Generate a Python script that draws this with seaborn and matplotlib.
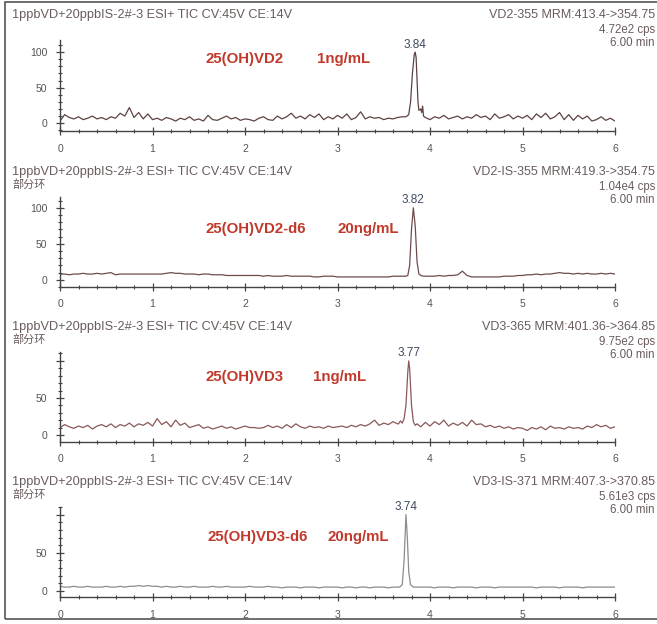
import numpy as np
import pandas as pd
import matplotlib.pyplot as plt
import seaborn as sns
from matplotlib.ticker import MultipleLocator
from matplotlib.patches import Rectangle

# baseline readings every 0.05 min, one row per minute (+ the 6.00 point)
time_grid = np.round(np.arange(0, 6.001, 0.05), 2)

vd2_base = [3, 12, 8, 6, 9, 5, 7, 10, 6, 8, 5, 9, 7, 14, 10, 22, 8, 15, 6, 13,
            5, 7, 4, 8, 6, 3, 7, 5, 9, 4, 6, 3, 11, 5, 4, 7, 10, 6, 8, 4,
            6, 5, 3, 7, 9, 5, 4, 10, 6, 9, 14, 7, 10, 6, 12, 8, 13, 5, 9, 6,
            11, 7, 13, 5, 8, 16, 6, 9, 7, 8, 5, 7, 6, 8, 9, 9, 9, 9, 9, 8,
            5, 9, 7, 11, 6, 8, 10, 6, 9, 7, 12, 8, 10, 5, 13, 7, 9, 12, 6, 10,
            7, 11, 5, 13, 8, 14, 6, 9, 15, 5, 12, 4, 11, 6, 10, 3, 5, 9, 4, 7,
            3]
vd2_peak_t = [3.74, 3.77, 3.79, 3.81, 3.83, 3.84, 3.85, 3.86, 3.87, 3.88, 3.90, 3.91, 3.92, 3.93, 3.95]
vd2_peak_y = [9, 12, 30, 70, 97, 100, 92, 60, 30, 18, 20, 15, 24, 10, 8]

vd2is_base = [8, 8, 7, 8, 8, 9, 8, 8, 9, 8, 9, 10, 7, 8, 8, 8, 8, 8, 8, 8,
              8, 8, 8, 9, 10, 9, 9, 8, 8, 8, 7, 8, 8, 7, 7, 7, 6, 6, 6, 6,
              6, 6, 6, 6, 5, 6, 5, 5, 5, 6, 5, 5, 5, 5, 5, 4, 4, 5, 5, 5,
              4, 4, 4, 4, 4, 4, 4, 4, 4, 4, 4, 4, 5, 5, 5, 5, 5, 5, 5, 5,
              5, 5, 6, 5, 6, 6, 7, 12, 6, 4, 4, 4, 4, 4, 4, 4, 5, 5, 5, 6,
              6, 7, 7, 8, 7, 8, 8, 9, 10, 9, 9, 8, 9, 8, 9, 8, 8, 9, 8, 9,
              8]
vd2is_peak_t = [3.74, 3.76, 3.78, 3.80, 3.82, 3.84, 3.86, 3.88, 3.90, 3.93]
vd2is_peak_y = [5, 6, 20, 70, 100, 75, 25, 8, 6, 5]

vd3_base = [10, 14, 11, 9, 12, 10, 13, 8, 12, 14, 11, 15, 10, 14, 12, 16, 11, 15, 13, 17,
            12, 22, 14, 18, 11, 20, 13, 16, 10, 12, 14, 9, 11, 8, 10, 12, 9, 11, 8, 10,
            12, 10, 10, 9, 10, 13, 10, 12, 9, 14, 10, 15, 11, 9, 12, 10, 11, 9, 12, 10,
            11, 12, 10, 13, 11, 14, 12, 15, 20, 13, 16, 14, 18, 15, 15, 15, 15, 15, 11, 17,
            12, 18, 14, 20, 12, 16, 13, 17, 12, 20, 14, 15, 11, 13, 10, 12, 9, 11, 8, 10,
            9, 6, 10, 8, 11, 7, 12, 9, 10, 8, 11, 9, 10, 8, 12, 10, 14, 11, 13, 9,
            11]
vd3_peak_t = [3.66, 3.68, 3.70, 3.72, 3.74, 3.76, 3.77, 3.78, 3.80, 3.82, 3.84, 3.86]
vd3_peak_y = [15, 19, 16, 22, 40, 85, 100, 90, 40, 18, 13, 15]

vd3is_base = [6, 5, 5, 6, 5, 5, 6, 5, 5, 5, 6, 5, 5, 6, 5, 6, 6, 7, 6, 7,
              6, 6, 5, 6, 5, 5, 6, 5, 5, 6, 5, 5, 5, 6, 5, 5, 6, 5, 5, 5,
              5, 6, 5, 5, 5, 6, 5, 5, 4, 5, 5, 5, 4, 5, 5, 5, 4, 5, 5, 5,
              5, 4, 5, 5, 4, 5, 5, 4, 5, 5, 5, 4, 5, 5, 5, 5, 5, 5, 5, 5,
              5, 4, 5, 5, 5, 4, 5, 5, 5, 5, 4, 5, 5, 5, 4, 5, 5, 5, 5, 5,
              5, 5, 5, 4, 5, 5, 5, 5, 4, 5, 5, 5, 5, 4, 5, 5, 5, 5, 5, 5,
              5]
vd3is_peak_t = [3.67, 3.70, 3.72, 3.74, 3.755, 3.77, 3.79, 3.82, 3.85]
vd3is_peak_y = [5, 8, 40, 100, 70, 25, 8, 5, 5]

peak_rt = [3.84, 3.82, 3.77, 3.74]
compounds = ['25(OH)VD2', '25(OH)VD2-d6', '25(OH)VD3', '25(OH)VD3-d6']
concs = ['1ng/mL', '20ng/mL', '1ng/mL', '20ng/mL']
left_header = '1ppbVD+20ppbIS-2#-3 ESI+ TIC CV:45V CE:14V'
sub_header = ['', '部分环', '部分环', '部分环']
channels = ['VD2-355 MRM:413.4->354.75', 'VD2-IS-355 MRM:419.3->354.75',
            'VD3-365 MRM:401.36->364.85', 'VD3-IS-371 MRM:407.3->370.85']
cps = ['4.72e2 cps', '1.04e4 cps', '9.75e2 cps', '5.61e3 cps']

bases = [vd2_base, vd2is_base, vd3_base, vd3is_base]
peaks_t = [vd2_peak_t, vd2is_peak_t, vd3_peak_t, vd3is_peak_t]
peaks_y = [vd2_peak_y, vd2is_peak_y, vd3_peak_y, vd3is_peak_y]

# layout (pixels from top of the 657x624 image)
W, H = 657, 624
ax_top = [40, 197, 352, 507]
ax_bot = [131, 287, 442, 597]
ylims = [(-11, 117), (-10, 115), (-9.5, 112), (-8, 110)]
label_y = [90, 70, 78, 71]
name_x = [1.57, 1.57, 1.57, 1.6]
conc_x = [2.78, 3.0, 2.74, 2.89]
line_colors = ['#5e4242', '#6e4c4c', '#8a5858', '#8c8c8c']
ytick_labels = [['0', '50', '100'], ['0', '50', '100'], ['0', '50', ''], ['0', '50', '']]

sns.set_style('ticks')
plt.rcParams['font.family'] = ['Liberation Sans', 'Noto Sans CJK SC', 'DejaVu Sans']

fig = plt.figure(figsize=(6.57, 6.24), dpi=100)
fig.patch.set_facecolor('white')
fig.patches.append(Rectangle((5 / W, 5 / H), 1.0, 1 - 7 / H, transform=fig.transFigure,
                             fill=False, edgecolor='#555555', linewidth=1.2))

hdr_color = '#6a5c5c'
for i in range(4):
    top, bot = ax_top[i], ax_bot[i]
    ax = fig.add_axes([60 / W, 1 - bot / H, 555 / W, (bot - top) / H])

    # drop the grid points that fall inside the finely read peak window
    t = time_grid
    b = np.array(bases[i], dtype=float)
    lo, hi = min(peaks_t[i]) - 0.01, max(peaks_t[i]) + 0.01
    keep = (t < lo) | (t > hi)
    df = pd.DataFrame({'time': np.concatenate([t[keep], peaks_t[i]]),
                       'intensity': np.concatenate([b[keep], peaks_y[i]])})
    sns.lineplot(data=df, x='time', y='intensity', ax=ax, color=line_colors[i],
                 linewidth=0.9, estimator=None)

    ax.set_xlim(0, 6)
    ax.set_ylim(*ylims[i])
    ax.set_xlabel('')
    ax.set_ylabel('')
    ax.set_xticks([0, 1, 2, 3, 4, 5, 6])
    ax.set_yticks([0, 50, 100])
    ax.set_yticklabels(ytick_labels[i])
    ax.xaxis.set_minor_locator(MultipleLocator(0.2))
    ax.yaxis.set_minor_locator(MultipleLocator(10))
    ax.tick_params(which='major', direction='inout', length=6, width=0.9,
                   colors='#444444', labelsize=7.5, labelcolor='#555555', pad=6)
    ax.tick_params(which='minor', direction='inout', length=3.5, width=0.8, colors='#444444')
    sns.despine(ax=ax)
    for s in ['left', 'bottom']:
        ax.spines[s].set_color('#444444')
        ax.spines[s].set_linewidth(1.0)
    ax.patch.set_alpha(0)

    # peak retention time
    ax.text(peak_rt[i], 102, f'{peak_rt[i]:.2f}', ha='center', va='bottom',
            fontsize=8.5, color='#3d4a60')
    ax.text(name_x[i], label_y[i], compounds[i], ha='left', va='center',
            fontsize=10.8, fontweight='bold', color='#c0392b')
    ax.text(conc_x[i], label_y[i], concs[i], ha='left', va='center',
            fontsize=10.8, fontweight='bold', color='#c0392b')

    # headers
    fig.text(12 / W, 1 - (top - 25) / H, left_header, ha='left', va='center',
             fontsize=9.2, color=hdr_color)
    if sub_header[i]:
        fig.text(12 / W, 1 - (top - 13) / H, sub_header[i], ha='left', va='center',
                 fontsize=8, color=hdr_color)
    fig.text(655 / W, 1 - (top - 25) / H, channels[i], ha='right', va='center',
             fontsize=9, color=hdr_color)
    fig.text(655 / W, 1 - (top - 10) / H, cps[i], ha='right', va='center',
             fontsize=8.3, color=hdr_color)
    fig.text(655 / W, 1 - (top + 3) / H, '6.00 min', ha='right', va='center',
             fontsize=8.3, color=hdr_color)

fig.savefig('out.png', dpi=100)
